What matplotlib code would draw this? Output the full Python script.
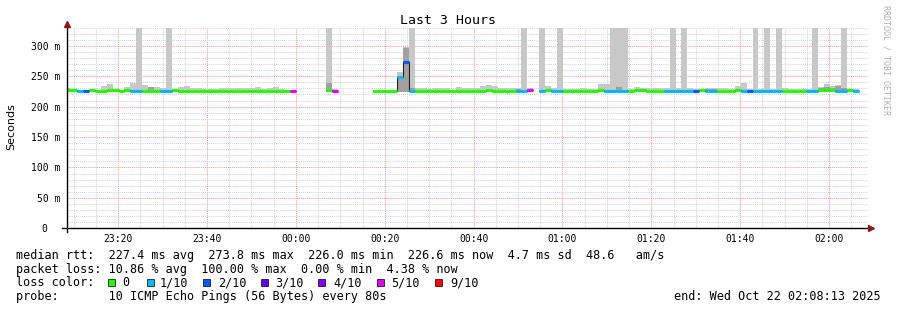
import numpy as np
import matplotlib
matplotlib.use('Agg')
import matplotlib.pyplot as plt
import matplotlib.ticker as mticker
from matplotlib.lines import Line2D
from matplotlib.patches import Rectangle

plt.rcParams['font.family'] = ['DejaVu Sans Mono']

_ = np.nan

# time in minutes after 23:00, one rrd step = 80 s
t_first = 8.1
step_min = 80 / 60

# lost pings out of 10 per step (10 = no reply at all)
loss = [0, 0, 1, 2, 0, 0, 0, 0, 0, 0,
        0, 1, 1, 0, 0, 0, 1, 1, 0, 0,
        0, 0, 0, 0, 0, 0, 0, 0, 0, 0,
        0, 0, 0, 0, 0, 0, 0, 0, 5, 10,
        10, 10, 10, 10, 0, 5, 10, 10, 10, 10,
        10, 10, 0, 0, 0, 0, 1, 2, 1, 0,
        0, 0, 0, 0, 0, 0, 0, 0, 0, 0,
        0, 0, 0, 0, 0, 0, 1, 1, 5, 10,
        1, 0, 1, 1, 0, 0, 0, 0, 0, 0,
        0, 1, 1, 1, 1, 0, 0, 0, 0, 0,
        0, 1, 1, 1, 1, 1, 2, 0, 1, 1,
        0, 0, 0, 0, 1, 2, 1, 1, 1, 1,
        1, 0, 0, 0, 0, 1, 1, 0, 0, 0,
        1, 1, 0, 1]

# median rtt in ms
median = [226.8, 226.6, 226.2, 226.3, 226.5, 226.2, 226.4, 226.6, 226.5, 226.3,
          226.5, 226.1, 226.0, 226.4, 226.3, 226.4, 226.0, 226.1, 226.5, 226.4,
          226.3, 226.2, 226.4, 226.3, 226.2, 226.2, 226.3, 226.4, 226.3, 226.2,
          226.3, 226.2, 226.4, 226.3, 226.2, 226.3, 226.1, 226.0, 226.4, _,
          _, _, _, _, 226.5, 226.3, _, _, _, _,
          _, _, 226.2, 226.0, 226.1, 226.2, 249.0, 273.8, 226.4, 226.3,
          226.2, 226.4, 226.3, 226.2, 226.1, 226.0, 226.3, 226.4, 226.3, 226.2,
          226.4, 226.6, 226.3, 226.2, 226.1, 226.2, 226.0, 226.1, 226.6, _,
          226.0, 226.5, 226.0, 226.1, 226.4, 226.3, 226.2, 226.4, 226.2, 226.3,
          226.6, 225.8, 225.9, 226.0, 225.9, 226.4, 226.6, 226.5, 226.4, 226.3,
          226.4, 225.8, 225.9, 225.9, 226.0, 225.8, 226.0, 226.5, 225.9, 226.0,
          226.4, 226.3, 226.2, 226.5, 226.0, 226.1, 225.9, 225.8, 225.9, 225.8,
          225.9, 226.4, 226.3, 226.2, 226.3, 226.0, 226.1, 226.7, 226.8, 226.6,
          226.0, 226.1, 226.5, 226.0]

# highest ping per step (400 = off the top of the graph)
smoke_hi = [231, 228, 228, 228, 228, 227, 234, 237, 229, 228,
            233, 239, 400, 236, 233, 233, 231, 400, 229, 233,
            234, 231, 231, 229, 229, 229, 230, 230, 230, 231,
            230, 230, 233, 229, 231, 233, 229, 228, 228, _,
            _, _, _, _, 400, 229, _, _, _, _,
            _, _, 227, 227, 227, 227, 257, 298, 400, 230,
            230, 229, 231, 230, 230, 228, 233, 231, 230, 230,
            234, 236, 234, 231, 230, 230, 231, 400, 231, _,
            400, 234, 230, 400, 229, 229, 229, 230, 229, 229,
            237, 237, 400, 400, 400, 229, 233, 231, 231, 231,
            230, 231, 400, 231, 400, 231, 229, 229, 230, 230,
            230, 230, 229, 234, 238, 229, 400, 229, 400, 229,
            400, 230, 229, 229, 229, 229, 400, 233, 237, 234,
            236, 400, 229, 229]

# second highest ping, where it stands out
smoke_mid = [_, _, _, _, _, _, _, _, _, _,
             _, _, _, _, 232, _, _, _, _, _,
             _, _, _, _, _, _, _, _, _, _,
             _, _, _, _, _, _, _, _, _, _,
             _, _, _, _, 239, _, _, _, _, _,
             _, _, _, _, _, _, 248, 296, 231, _,
             _, _, _, _, _, _, _, _, _, _,
             _, _, _, _, _, _, 229.5, _, _, _,
             _, _, _, _, _, _, _, _, _, _,
             _, _, _, 232, _, _, _, _, _, _,
             _, _, _, _, _, _, _, _, 229, 229,
             _, _, _, _, _, _, _, _, _, _,
             _, _, _, _, _, _, _, 231, 233, 231,
             234, 231, _, _]

smoke_floor = 224.0

loss_levels = [0, 1, 2, 3, 4, 5, 9]
loss_labels = ['0', '1/10', '2/10', '3/10', '4/10', '5/10', '9/10']
loss_colors = ['#26ff00', '#00b8ff', '#0059ff', '#5e00ff', '#7e00ff', '#dd00ff', '#ff0000']

W, H = 897, 310
fig = plt.figure(figsize=(W / 100, H / 100), dpi=100)


def fx(x):
    return x / W


def fy(y):
    return 1 - y / H


ax = fig.add_axes([fx(67), fy(228.3), (868 - 67) / W, (228.3 - 27.5) / H])

n = len(median)
left = t_first + step_min * np.arange(n)
edges = t_first + step_min * np.arange(n + 1)
ctr = left + step_min / 2
med = np.array(median, dtype=float)
hi = np.array(smoke_hi, dtype=float)
mid = np.array(smoke_mid, dtype=float)

ok = ~np.isnan(hi)
ax.bar(ctr[ok], hi[ok] - smoke_floor, bottom=smoke_floor, width=step_min,
       color='#c8c8c8', linewidth=0, zorder=2)
ok = ~np.isnan(mid)
ax.bar(ctr[ok], mid[ok] - smoke_floor, bottom=smoke_floor, width=step_min,
       color='#a0a0a0', linewidth=0, zorder=2)

ax.stairs(med, edges, baseline=None, color='#202020', linewidth=0.8, zorder=3)

cols = []
for l in loss:
    idx = max(i for i, lv in enumerate(loss_levels) if lv <= l)
    cols.append(loss_colors[idx])
ok = ~np.isnan(med)
ax.hlines(med[ok], left[ok], left[ok] + step_min,
          colors=[c for c, k in zip(cols, ok) if k], linewidth=2.3,
          capstyle='butt', zorder=4)

ax.set_xlim(8.5, 188.75)
ax.set_ylim(0, 330)
ax.xaxis.set_major_locator(mticker.MultipleLocator(20))
ax.xaxis.set_minor_locator(mticker.MultipleLocator(5))
ax.yaxis.set_major_locator(mticker.MultipleLocator(50))
ax.yaxis.set_minor_locator(mticker.MultipleLocator(10))


def hhmm(v, _pos):
    m = int(round(v)) + 23 * 60
    return f'{(m // 60) % 24:02d}:{m % 60:02d}'


ax.xaxis.set_major_formatter(mticker.FuncFormatter(hhmm))
ax.yaxis.set_major_formatter(mticker.FuncFormatter(
    lambda v, _p: '0  ' if v == 0 else f'{v:.0f} m'))

ax.grid(which='minor', color='#d4d4d4', linestyle=(0, (1, 1)), linewidth=0.75)
ax.grid(which='major', color='#f2a0a0', linestyle=(0, (1, 1)), linewidth=0.75)
ax.set_axisbelow(True)
ax.tick_params(which='both', length=0, labelsize=7)
ax.tick_params(axis='x', pad=3.8)
ax.tick_params(axis='y', pad=5)
for s in ax.spines.values():
    s.set_visible(False)

# axis lines with arrows
fig.add_artist(Line2D([fx(62), fx(869)], [fy(228.3), fy(228.3)], color='black', lw=1))
fig.add_artist(Line2D([fx(67), fx(67)], [fy(232), fy(25)], color='black', lw=1))
fig.add_artist(Line2D([fx(67)], [fy(23.5)], marker='^', ms=5, color='#8b1a1a', lw=0))
fig.add_artist(Line2D([fx(871)], [fy(228.3)], marker='>', ms=5, color='#8b1a1a', lw=0))

fig.text(fx(448), fy(24.5), 'Last 3 Hours', ha='center', va='baseline', fontsize=9.5)
fig.text(fx(11), fy(127), 'Seconds', rotation=90, ha='center', va='center',
         fontsize=8, family='DejaVu Sans')
fig.text(fx(886), fy(60), 'RRDTOOL / TOBI OETIKER', rotation=270, ha='center',
         va='center', fontsize=6, color='#b0b0b0')

fs = 8.5
fig.text(fx(16), fy(258.8),
         'median rtt:  227.4 ms avg  273.8 ms max  226.0 ms min  226.6 ms now  4.7 ms sd  48.6   am/s',
         fontsize=fs, va='baseline')
fig.text(fx(16), fy(272.5),
         'packet loss: 10.86 % avg  100.00 % max  0.00 % min  4.38 % now',
         fontsize=fs, va='baseline')
fig.text(fx(16), fy(286.2), 'loss color:', fontsize=fs, va='baseline')
sq_x = [108, 147, 203, 261, 318, 377, 435]
lab_x = [122, 160, 218, 275, 333, 391, 450]
for sx, lx, lab, c in zip(sq_x, lab_x, loss_labels, loss_colors):
    fig.add_artist(Rectangle((fx(sx), fy(286)), 7 / W, 7 / H, facecolor=c,
                             edgecolor='black', linewidth=0.5))
    fig.text(fx(lx), fy(286.2), lab, fontsize=fs, va='baseline')
fig.text(fx(16), fy(299.9), 'probe:       10 ICMP Echo Pings (56 Bytes) every 80s',
         fontsize=fs, va='baseline')
fig.text(fx(881), fy(299.9), 'end: Wed Oct 22 02:08:13 2025', fontsize=fs,
         va='baseline', ha='right')

fig.savefig('out.png', dpi=100)
